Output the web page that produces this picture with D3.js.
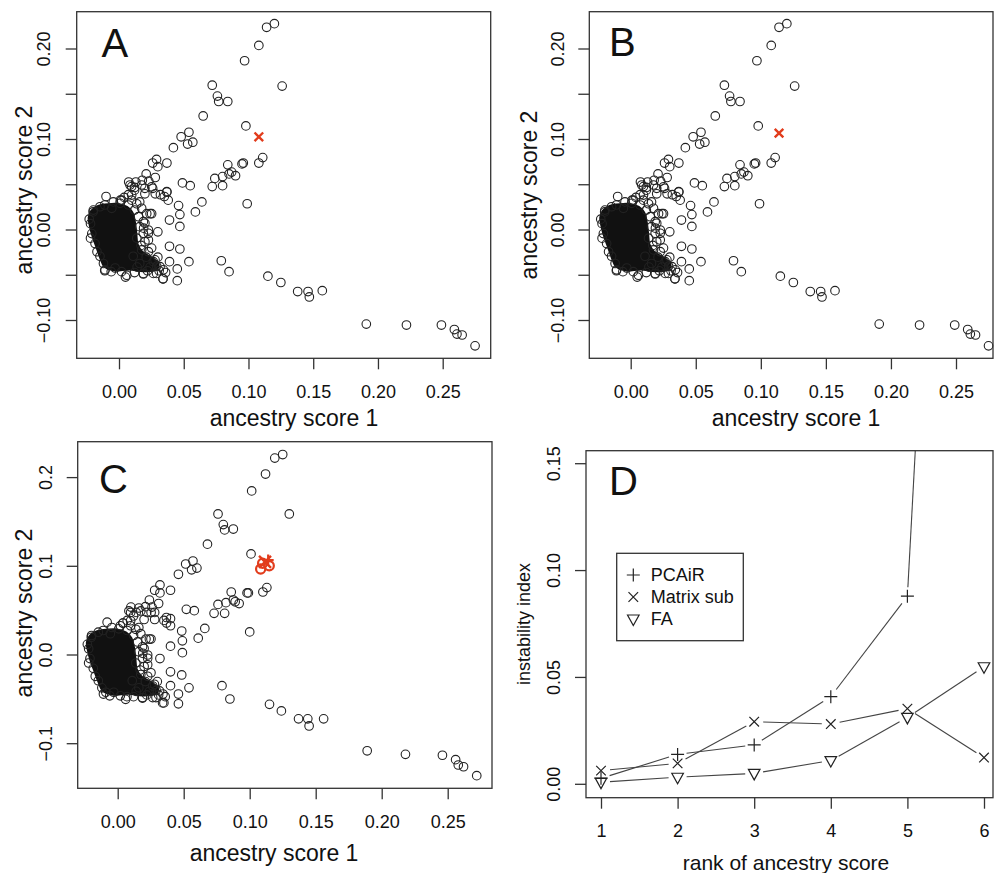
<!DOCTYPE html>
<html>
<head>
<meta charset="utf-8">
<title>ancestry scores</title>
<script src="https://d3js.org/d3.v7.min.js"></script>
<style>
  body { margin: 0; background: #fff; }
  svg text { font-family: "Liberation Sans", Arial, sans-serif; fill: #111; }
</style>
</head>
<body>
<svg id="fig" width="994" height="873"></svg>
<script>
// ---- data ----
// outlying samples, panels A and B (same scores)
var scoresAB = [[0.120,0.228],[0.114,0.224],[0.108,0.204],[0.097,0.187],[0.126,0.159],[0.072,0.160],[0.076,0.148],[0.077,0.142],[0.084,0.142],[0.065,0.126],[0.098,0.115],[0.054,0.108],[0.048,0.103],[0.053,0.095],[0.057,0.097],[0.042,0.091],[0.111,0.080],[0.108,0.074],[0.096,0.074],[0.095,0.073],[0.084,0.072],[0.087,0.064],[0.090,0.060],[0.085,0.062],[0.080,0.059],[0.074,0.057],[0.072,0.048],[0.080,0.049],[0.049,0.052],[0.055,0.049],[0.029,0.078],[0.026,0.074],[0.030,0.070],[0.037,0.074],[0.028,0.058],[0.021,0.062],[0.023,0.054],[0.0075,0.053],[0.013,0.053],[0.018,0.055],[0.012,0.047],[0.020,0.046],[0.026,0.046],[0.032,0.039],[0.037,0.042],[0.035,0.037],[0.038,0.033],[0.046,0.027],[0.064,0.031],[0.099,0.029],[0.059,0.020],[0.047,0.017],[0.039,0.011],[0.047,0.004],[0.030,-0.002],[0.039,-0.018],[0.047,-0.021],[0.039,-0.035],[0.054,-0.035],[0.045,-0.043],[0.045,-0.056],[0.034,-0.054],[0.079,-0.034],[0.085,-0.046],[0.115,-0.051],[0.125,-0.058],[0.138,-0.068],[0.146,-0.068],[0.147,-0.074],[0.157,-0.067],[0.191,-0.104],[0.222,-0.105],[0.249,-0.105],[0.259,-0.110],[0.261,-0.115],[0.265,-0.116],[0.275,-0.128],[-0.010,0.037],[0.001,0.033],[0.005,-0.052],[-0.011,-0.045]];

// outlying samples, panel C
var scoresC = [[0.125,0.226],[0.119,0.222],[0.112,0.204],[0.1015,0.185],[0.130,0.159],[0.076,0.159],[0.080,0.147],[0.081,0.141],[0.0876,0.142],[0.068,0.125],[0.101,0.114],[0.057,0.106],[0.0515,0.1026],[0.056,0.096],[0.060,0.098],[0.046,0.091],[0.113,0.076],[0.110,0.071],[0.098,0.070],[0.099,0.070],[0.086,0.071],[0.0876,0.062],[0.092,0.058],[0.089,0.060],[0.082,0.059],[0.076,0.057],[0.073,0.047],[0.081,0.047],[0.052,0.0515],[0.058,0.050],[0.032,0.079],[0.028,0.073],[0.032,0.070],[0.040,0.073],[0.031,0.058],[0.024,0.062],[0.026,0.054],[0.010,0.054],[0.016,0.053],[0.021,0.0545],[0.014,0.048],[0.022,0.048],[0.028,0.048],[0.035,0.039],[0.040,0.041],[0.037,0.036],[0.040,0.033],[0.0485,0.027],[0.066,0.030],[0.100,0.026],[0.061,0.019],[0.049,0.016],[0.040,0.010],[0.049,0.0026],[0.032,-0.004],[0.040,-0.019],[0.0485,-0.0225],[0.040,-0.0346],[0.054,-0.037],[0.046,-0.044],[0.046,-0.055],[0.035,-0.054],[0.079,-0.0346],[0.085,-0.0496],[0.115,-0.0556],[0.124,-0.063],[0.137,-0.072],[0.144,-0.072],[0.145,-0.080],[0.156,-0.072],[0.189,-0.108],[0.218,-0.112],[0.246,-0.113],[0.256,-0.118],[0.258,-0.124],[0.262,-0.126],[0.272,-0.136],[-0.008,0.037],[0.004,0.036],[0.007,-0.047],[-0.009,-0.042]];

// the overplotted core (solid black) and the circles on its rim
var clusterOutline = [[-0.021,0.021],[-0.016,0.026],[-0.008,0.028],[0.000,0.028],[0.006,0.025],[0.010,0.019],[0.012,0.008],[0.013,-0.004],[0.014,-0.016],[0.018,-0.025],[0.025,-0.031],[0.030,-0.037],[0.029,-0.043],[0.019,-0.045],[0.008,-0.043],[-0.004,-0.044],[-0.011,-0.040],[-0.014,-0.031],[-0.017,-0.019],[-0.020,-0.007],[-0.022,0.004],[-0.023,0.014]];
var clusterEdge = [[-0.020,0.020],[-0.022,0.007],[-0.021,-0.004],[-0.0185,-0.015],[-0.0147,-0.029],[-0.0108,-0.044],[-0.003,-0.042],[0.006,-0.050],[0.0188,-0.0486],[0.029,-0.048],[0.034,-0.054],[0.0317,-0.0405],[0.0265,-0.035],[0.0227,-0.024],[0.020,-0.013],[0.0227,-0.0037],[0.020,0.0074],[0.024,0.018],[0.016,0.031],[0.0098,0.0386],[0.0072,0.0276],[0.015,0.0147],[0.016,0.0037],[0.0137,-0.009],[0.0175,-0.022],[0.011,-0.029],[0.0008,0.0295],[-0.0056,0.024],[-0.0147,0.0257],[0.0085,0.0497],[0.0175,0.0497],[0.0253,0.0478],[0.0369,0.0423],[0.0098,0.033],[0.0137,0.029],[0.0175,0.024],[0.0214,0.018],[0.0252,0.018],[0.0188,0.0092],[0.0227,0.000],[0.0188,-0.0037],[0.0227,-0.011],[0.0252,-0.020],[0.0278,-0.033],[0.0291,-0.040],[0.0343,-0.044],[0.0188,-0.048],[0.0265,-0.048],[0.016,-0.037],[0.0098,0.048],[0.0072,0.039],[0.002,0.033],[-0.0044,0.031],[-0.011,0.0276],[-0.0198,0.022],[-0.023,0.012],[-0.022,-0.009],[-0.017,-0.024],[-0.012,-0.037],[-0.006,-0.046],[0.002,-0.046],[0.012,-0.047],[0.022,-0.045],[0.031,-0.045],[0.036,-0.047],[0.014,-0.041],[0.024,-0.041],[0.021,-0.030],[0.030,-0.030],[0.017,-0.017],[0.019,0.002],[0.012,0.022],[0.004,0.036],[0.020,0.040],[0.012,0.044],[0.028,0.040]];

// highlighted sample
var redA = [[0.108,0.103]];
var redB = [[0.114,0.107]];
var redCcircles = [[0.1083,0.097],[0.1148,0.1007],[0.1098,0.1034]];
var redCcross = [[0.1116,0.105]];
var redCplus = [[0.114,0.107]];

// panel D
var ranks = [1,2,3,4,5,6];
var pcair = [0.0028,0.014,0.0184,0.041,0.088,0.75];
var matrixSub = [0.0064,0.0098,0.0293,0.0282,0.0354,0.0125];
var fa = [0.001,0.0033,0.0051,0.0111,0.0313,0.055];
var legendLabels = ["PCAiR","Matrix sub","FA"];

// ticks
var score1Ticks = [0,0.05,0.10,0.15,0.20,0.25];
var score2TicksAB = [-0.10,-0.05,0,0.05,0.10,0.15,0.20];
var score2LabelsAB = [-0.10,0,0.10,0.20];
var score2TicksC = [-0.1,0,0.1,0.2];
var instabTicks = [0,0.05,0.10,0.15];

var RED = "#e23c1c";
var svg = d3.select("#fig");

function box(g, b) {
  g.append("rect").attr("x", b[0]).attr("y", b[1])
    .attr("width", b[2]-b[0]).attr("height", b[3]-b[1])
    .attr("fill", "none").attr("stroke", "#333").attr("stroke-width", 1.3);
}

function xAxis(g, x, b, ticks, fmt) {
  var ax = g.append("g").attr("transform", "translate(0," + b[3] + ")")
    .call(d3.axisBottom(x).tickValues(ticks).tickSize(11).tickPadding(16).tickFormat(fmt));
  ax.select(".domain").remove();
  ax.selectAll("line").attr("stroke", "#333").attr("stroke-width", 1.3);
  ax.selectAll("text").attr("font-size", 18).attr("fill", "#111");
}

function yAxis(g, y, b, ticks, labels, fmt, labX) {
  g.selectAll("line.yt").data(ticks).join("line").attr("class", "yt")
    .attr("x1", b[0]).attr("x2", b[0]-11)
    .attr("y1", function(d){ return y(d); }).attr("y2", function(d){ return y(d); })
    .attr("stroke", "#333").attr("stroke-width", 1.3);
  g.selectAll("text.yl").data(labels).join("text").attr("class", "yl")
    .attr("transform", function(d){ return "translate(" + labX + "," + y(d) + ") rotate(-90)"; })
    .attr("text-anchor", "middle").attr("dy", "0.35em").attr("font-size", 18)
    .text(fmt);
}

function titles(g, xt, xx, xy, yt, yx, yy, size) {
  g.append("text").attr("x", xx).attr("y", xy).attr("dy", "0.35em")
    .attr("text-anchor", "middle").attr("font-size", size[0]).text(xt);
  g.append("text").attr("transform", "translate(" + yx + "," + yy + ") rotate(-90)")
    .attr("dy", "0.35em").attr("text-anchor", "middle").attr("font-size", size[1]).text(yt);
}

function letter(g, s, x, y) {
  g.append("text").attr("x", x).attr("y", y).attr("font-size", 40).text(s);
}

function crossPath(s) { return "M" + (-s) + "," + (-s) + "L" + s + "," + s + "M" + (-s) + "," + s + "L" + s + "," + (-s); }
function plusPath(s) { return "M" + (-s) + ",0H" + s + "M0," + (-s) + "V" + s; }
var triPath = "M-5.8,-4L5.8,-4L0,6.5Z";

function scatter(cfg, scores, drawRed) {
  var g = svg.append("g");
  var b = cfg.box;
  var x = d3.scaleLinear().domain([0, 0.25]).range(cfg.xr);
  var y = d3.scaleLinear().domain([0, 0.2]).range(cfg.yr);

  g.append("path").datum(clusterOutline)
    .attr("d", d3.line().x(function(d){ return x(d[0]); }).y(function(d){ return y(d[1]); })
      .curve(d3.curveCatmullRomClosed))
    .attr("fill", "#111").attr("stroke", "#111").attr("stroke-width", 3).attr("stroke-linejoin", "round");

  g.selectAll("circle.pt").data(clusterEdge.concat(scores)).join("circle").attr("class", "pt")
    .attr("cx", function(d){ return x(d[0]); }).attr("cy", function(d){ return y(d[1]); })
    .attr("r", 4.3).attr("fill", "none").attr("stroke", "#222").attr("stroke-width", 1.1);

  drawRed(g, x, y);

  box(g, b);
  xAxis(g, x, b, score1Ticks, d3.format(".2f"));
  yAxis(g, y, b, cfg.yticks, cfg.ylabels, cfg.yfmt, cfg.ylabX);
  titles(g, "ancestry score 1", cfg.xtX, cfg.xtY, "ancestry score 2", cfg.ytX, cfg.ytY, [23, 23]);
  letter(g, cfg.letter, cfg.letX, cfg.letY);
}

function redCross(g, x, y, pts, s) {
  g.selectAll(null).data(pts).join("path")
    .attr("transform", function(d){ return "translate(" + x(d[0]) + "," + y(d[1]) + ")"; })
    .attr("d", crossPath(s)).attr("stroke", RED).attr("stroke-width", 2.4).attr("fill", "none");
}

// A
scatter({box: [76.7, 11.7, 490.7, 358.3], xr: [119, 442.7], yr: [230, 49],
  yticks: score2TicksAB, ylabels: score2LabelsAB, yfmt: d3.format(".2f"), ylabX: 44,
  xtX: 294, xtY: 418, ytX: 24, ytY: 190, letter: "A", letX: 101.5, letY: 57},
  scoresAB, function(g, x, y){ redCross(g, x, y, redA, 4.3); });

// B
scatter({box: [589.3, 11.7, 993, 358.3], xr: [630.7, 956], yr: [230, 49],
  yticks: score2TicksAB, ylabels: score2LabelsAB, yfmt: d3.format(".2f"), ylabX: 557.5,
  xtX: 796, xtY: 418, ytX: 529, ytY: 195, letter: "B", letX: 609, letY: 55.5},
  scoresAB, function(g, x, y){ redCross(g, x, y, redB, 4.3); });

// C
scatter({box: [77.7, 441.7, 492, 788.3], xr: [117.7, 447.7], yr: [655, 477.6],
  yticks: score2TicksC, ylabels: score2TicksC, yfmt: d3.format(".1f"), ylabX: 46,
  xtX: 274, xtY: 853, ytX: 24, ytY: 613, letter: "C", letX: 99, letY: 493},
  scoresC, function(g, x, y){
    g.selectAll(null).data(redCcircles).join("circle")
      .attr("cx", function(d){ return x(d[0]); }).attr("cy", function(d){ return y(d[1]); })
      .attr("r", 4.6).attr("fill", "none").attr("stroke", RED).attr("stroke-width", 2.2);
    redCross(g, x, y, redCcross, 6);
    g.selectAll(null).data(redCplus).join("path")
      .attr("transform", function(d){ return "translate(" + x(d[0]) + "," + y(d[1]) + ")"; })
      .attr("d", plusPath(5.5)).attr("stroke", RED).attr("stroke-width", 2.2);
  });

// D
(function() {
  var g = svg.append("g");
  var b = [586, 450.7, 993, 797.7];
  var x = d3.scaleLinear().domain([1, 6]).range([601, 984]);
  var y = d3.scaleLinear().domain([0, 0.15]).range([784.3, 463.7]);

  svg.append("clipPath").attr("id", "clipD").append("rect")
    .attr("x", b[0]).attr("y", b[1]).attr("width", b[2]-b[0]).attr("height", b[3]-b[1]);
  var plot = g.append("g").attr("clip-path", "url(#clipD)");

  var series = [
    {vals: pcair, sym: plusPath(6.5)},
    {vals: matrixSub, sym: crossPath(4.8)},
    {vals: fa, sym: triPath}
  ];
  var gap = 9;
  series.forEach(function(s) {
    var pts = ranks.map(function(r, i){ return [x(r), y(s.vals[i])]; });
    var segs = d3.pairs(pts).map(function(p) {
      var dx = p[1][0]-p[0][0], dy = p[1][1]-p[0][1], len = Math.hypot(dx, dy);
      var ux = dx/len, uy = dy/len;
      return [p[0][0]+ux*gap, p[0][1]+uy*gap, p[1][0]-ux*gap, p[1][1]-uy*gap];
    });
    plot.selectAll(null).data(segs).join("line")
      .attr("x1", function(d){ return d[0]; }).attr("y1", function(d){ return d[1]; })
      .attr("x2", function(d){ return d[2]; }).attr("y2", function(d){ return d[3]; })
      .attr("stroke", "#444").attr("stroke-width", 1.1);
    plot.selectAll(null).data(pts.filter(function(p){ return p[1] > b[1]; })).join("path")
      .attr("transform", function(d){ return "translate(" + d[0] + "," + d[1] + ")"; })
      .attr("d", s.sym).attr("fill", "none").attr("stroke", "#222").attr("stroke-width", 1.2);
  });

  box(g, b);
  xAxis(g, x, b, ranks, d3.format("d"));
  yAxis(g, y, b, instabTicks, instabTicks, d3.format(".2f"), 554);
  g.append("text").attr("x", 786).attr("y", 863).attr("dy", "0.35em")
    .attr("text-anchor", "middle").attr("font-size", 21).text("rank of ancestry score");
  g.append("text").attr("transform", "translate(524,624) rotate(-90)")
    .attr("dy", "0.35em").attr("text-anchor", "middle").attr("font-size", 18).text("instability index");
  letter(g, "D", 609, 495);

  // legend
  var lg = g.append("g");
  lg.append("rect").attr("x", 616.7).attr("y", 553.3).attr("width", 126.6).attr("height", 87.4)
    .attr("fill", "#fff").attr("stroke", "#333").attr("stroke-width", 1.3);
  var ly = d3.scalePoint().domain(legendLabels).range([575, 619]);
  lg.selectAll(null).data(series).join("path")
    .attr("transform", function(d, i){ return "translate(633.3," + ly(legendLabels[i]) + ")"; })
    .attr("d", function(d){ return d.sym; }).attr("fill", "none").attr("stroke", "#222").attr("stroke-width", 1.2);
  lg.selectAll(null).data(legendLabels).join("text")
    .attr("x", 650.7).attr("y", function(d){ return ly(d); }).attr("dy", "0.35em")
    .attr("font-size", 18).text(function(d){ return d; });
})();
</script>
</body>
</html>
